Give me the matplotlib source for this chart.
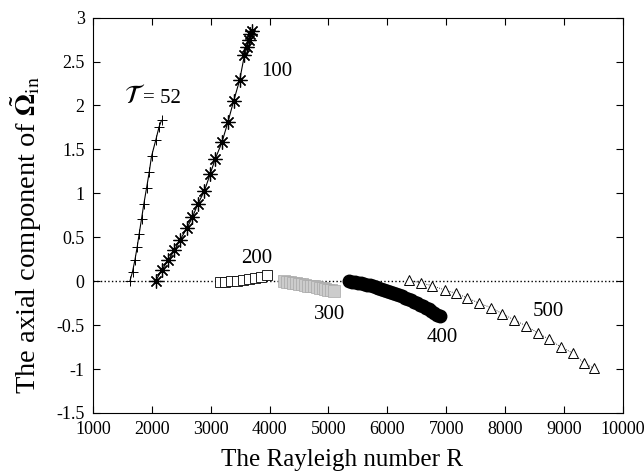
import matplotlib
matplotlib.use('Agg')
import matplotlib.pyplot as plt

plt.rcParams['font.family'] = 'Liberation Serif'
plt.rcParams['mathtext.fontset'] = 'stix'
plt.rcParams['axes.unicode_minus'] = False

# tau = 52
r52 = [1627, 1672, 1712, 1751, 1785, 1825, 1864, 1910, 1955, 1994, 2068, 2124, 2164]
w52 = [0.0, 0.11, 0.24, 0.39, 0.54, 0.71, 0.88, 1.06, 1.24, 1.42, 1.61, 1.76, 1.83]

# tau = 100
r100 = [2063, 2166, 2280, 2382, 2479, 2593, 2690, 2780, 2894, 2991, 3076, 3190,
        3292, 3389, 3492, 3572, 3617, 3657, 3674, 3702]
w100 = [0.0, 0.125, 0.24, 0.35, 0.47, 0.60, 0.73, 0.875, 1.03, 1.22, 1.39, 1.58,
        1.81, 2.05, 2.29, 2.57, 2.66, 2.75, 2.81, 2.85]

# tau = 200
r200 = [3150, 3250, 3350, 3450, 3550, 3650, 3750, 3850, 3950]
w200 = [-0.01, -0.01, 0.0, 0.0, 0.01, 0.02, 0.04, 0.05, 0.07]

# tau = 300
r300 = [4250, 4300, 4350, 4400, 4450, 4500, 4550, 4600, 4650, 4700, 4750, 4800,
        4850, 4900, 4950, 5000, 5050, 5100]
w300 = [0.0, -0.005, -0.01, -0.015, -0.02, -0.03, -0.035, -0.04, -0.05, -0.055,
        -0.06, -0.07, -0.075, -0.08, -0.09, -0.095, -0.10, -0.11]

# tau = 400
r400 = [5350, 5400, 5450, 5500, 5550, 5600, 5650, 5700, 5750, 5800, 5850, 5900,
        5950, 6000, 6050, 6100, 6150, 6200, 6250, 6300, 6350, 6400, 6450, 6500,
        6550, 6600, 6650, 6700, 6750, 6800, 6850, 6900]
w400 = [0.0, -0.005, -0.011, -0.018, -0.025, -0.032, -0.040, -0.049, -0.058, -0.067,
        -0.077, -0.088, -0.098, -0.110, -0.122, -0.134, -0.147, -0.160, -0.174, -0.189,
        -0.203, -0.219, -0.235, -0.251, -0.268, -0.286, -0.304, -0.322, -0.341, -0.360,
        -0.380, -0.400]

# tau = 500
r500 = [6373, 6571, 6757, 6977, 7175, 7362, 7559, 7757, 7955, 8153, 8362, 8559,
        8746, 8955, 9153, 9339, 9508]
w500 = [0.01, -0.02, -0.05, -0.10, -0.14, -0.19, -0.25, -0.30, -0.37, -0.44, -0.51,
        -0.59, -0.66, -0.75, -0.82, -0.93, -0.99]

fig = plt.figure(figsize=(6.44, 4.76), dpi=100)
ax = fig.add_axes([0.1444, 0.1324, 0.8226, 0.8306])

ax.axhline(0, color='black', linestyle=':', linewidth=1.0, zorder=1)

ax.plot(r52, w52, color='black', linewidth=0.8, marker='+', markersize=7, markeredgewidth=0.7)
# asterisk markers
ax.plot(r100, w100, color='black', linewidth=0.8, marker=(8, 2, 0), markersize=10,
        markeredgewidth=0.9)
ax.plot(r200, w200, color='black', linewidth=0.6, marker='s', markersize=6.5,
        markerfacecolor='white', markeredgewidth=0.6, linestyle=':')
ax.plot(r300, w300, color='#b0b0b0', linewidth=0, marker='s', markersize=8,
        markerfacecolor='#cccccc', markeredgecolor='#a8a8a8', markeredgewidth=0.5)
ax.plot(r400, w400, color='black', linewidth=0, marker='o', markersize=9)
ax.plot(r500, w500, color='black', linewidth=0.6, linestyle=':', marker='^', markersize=7,
        markerfacecolor='white', markeredgewidth=0.7)

ax.set_xlim(1000, 10000)
ax.set_ylim(-1.5, 3)
ax.set_xticks(range(1000, 10001, 1000))
ax.set_yticks([-1.5, -1, -0.5, 0, 0.5, 1, 1.5, 2, 2.5, 3])
ax.set_yticklabels(['-1.5', '-1', '-0.5', '0', '0.5', '1', '1.5', '2', '2.5', '3'])
ax.tick_params(direction='in', top=True, right=True, labelsize=13, length=5, pad=6)

ax.set_xlabel('The Rayleigh number R', fontsize=18)
ax.xaxis.set_label_coords(0.47, -0.092)
ax.set_ylabel(r'The axial component of $\tilde{\boldsymbol{\Omega}}_{\rm in}$', fontsize=20.5)
ax.yaxis.set_label_coords(-0.092, 0.45)

ax.text(1700, 2.03, r'$\mathcal{T}$', fontsize=19, ha='center', va='baseline')
ax.text(1850, 2.03, '= 52', fontsize=15, ha='left', va='baseline')
ax.text(3864, 2.33, '100', fontsize=15, va='baseline')
ax.text(3520, 0.205, '200', fontsize=15, va='baseline')
ax.text(4760, -0.43, '300', fontsize=15, va='baseline')
ax.text(6660, -0.69, '400', fontsize=15, va='baseline')
ax.text(8475, -0.40, '500', fontsize=15, va='baseline')

fig.savefig('out.png', dpi=100)
